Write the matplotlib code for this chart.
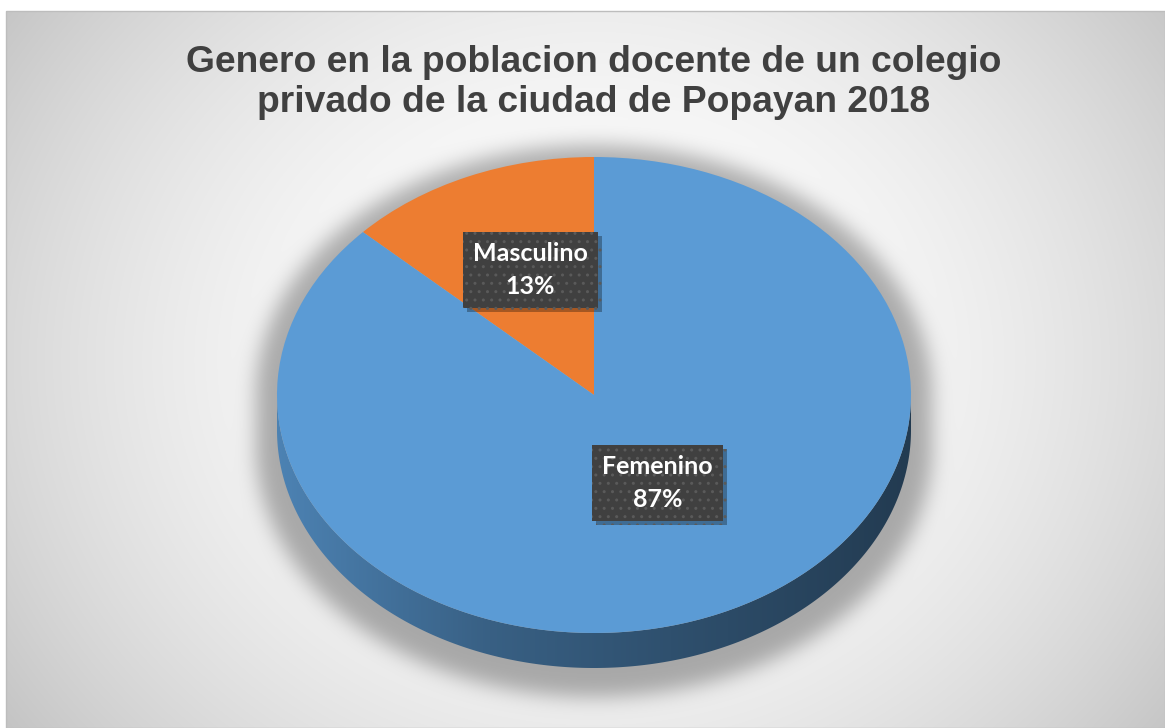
import numpy as np
import matplotlib
matplotlib.use("Agg")
import matplotlib.pyplot as plt
from matplotlib.patches import Polygon, Rectangle
from matplotlib.colors import LinearSegmentedColormap, to_rgb
import matplotlib.patheffects as pe

# ---------------- data ----------------
labels = ["Masculino", "Femenino"]
values = [13, 87]
colors = ["#ED7D31", "#5B9BD5"]
title_lines = ["Genero en la poblacion docente de un colegio",
               "privado de la ciudad de Popayan 2018"]

# ---------------- layout ----------------
W, H = 1165, 728
CX, CY = 594, 395          # pie centre (px)
RX, RY = 317, 238          # pie radii (px)
DEPTH = 35                 # pie thickness (px)
label_pos = [(-0.20, 0.525), (0.20, -0.37)]   # label centres in pie units

fig = plt.figure(figsize=(W / 100, H / 100), dpi=100)
fig.patch.set_facecolor("white")

# ---------------- background with gradient + pie shadow ----------------
bg = fig.add_axes([0, 0, 1, 1])
bg.set_xlim(0, W)
bg.set_ylim(H, 0)
bg.axis("off")

yy, xx = np.mgrid[0:H, 0:W] + 0.5
r2 = ((xx - 594) / 620) ** 2 + ((yy - 360) / 540) ** 2
shade = 1 - 0.17 * r2

# soft shadow of the pie silhouette
dy = yy - CY
dyc = dy - np.clip(dy, 0, 52)
mask = (((xx - CX) / 338) ** 2 + (dyc / 250) ** 2 <= 1).astype(float)
sigma = 10.0
ky = np.fft.fftfreq(H)[:, None]
kx = np.fft.fftfreq(W)[None, :]
g = np.exp(-2 * (np.pi ** 2) * (sigma ** 2) * (kx ** 2 + ky ** 2))
blur = np.real(np.fft.ifft2(np.fft.fft2(mask) * g))
blur = np.clip(blur, 0, 1)
shade = shade * (1 - 0.30 * blur)
shade = np.clip(shade, 0, 1)

img = np.dstack([shade, shade, shade])
img[:11, :, :] = 1.0
img[:, :6, :] = 1.0
bg.imshow(img, extent=[0, W, H, 0], interpolation="bilinear", aspect="auto", zorder=0)
bg.add_patch(Rectangle((6, 11), W - 6, H - 11, fill=False, edgecolor="#bdbdbd", lw=1.0, zorder=1))

# ---------------- pie ----------------
left_px, right_px = CX - 370, CX + 370
top_px, bot_px = 140, 700
ax = fig.add_axes([left_px / W, (H - bot_px) / H, (right_px - left_px) / W, (bot_px - top_px) / H])
ax.patch.set_alpha(0)
wedges, _ = ax.pie(values, colors=colors, startangle=90, counterclock=True,
                   wedgeprops=dict(linewidth=0, zorder=3))
ax.set_aspect("auto")
xl = (right_px - left_px) / 2 / RX

d = DEPTH / RY
# side walls: visible front half (180..360 deg) of each wedge
for w, col in zip(wedges, colors):
    spans = []
    for off in (0, 360, -360):
        lo = max(w.theta1 + off, 180)
        hi = min(w.theta2 + off, 360)
        if hi > lo:
            spans.append((lo, hi))
    base = np.array(to_rgb(col))
    cmap = LinearSegmentedColormap.from_list(
        "side", [base * 0.84, base * 0.62, base * 0.50, base * 0.38])
    for lo, hi in spans:
        t = np.radians(np.linspace(lo, hi, 400))
        top = np.column_stack([np.cos(t), np.sin(t)])
        bot = np.column_stack([np.cos(t), np.sin(t) - d])[::-1]
        poly = Polygon(np.vstack([top, bot]), closed=True, facecolor="none",
                       edgecolor="none", zorder=2)
        ax.add_patch(poly)
        grad = np.linspace(0, 1, 512)[None, :]
        im = ax.imshow(grad, cmap=cmap, extent=[-1, 1, -1 - d, 0],
                       aspect="auto", zorder=2, interpolation="bilinear")
        im.set_clip_path(poly)

ax.set_xlim(-xl, xl)
ax.set_ylim(-(bot_px - CY) / RY, (CY - top_px) / RY)
ax.axis("off")

# ---------------- data labels ----------------
total = sum(values)
for lab, v, (x, y) in zip(labels, values, label_pos):
    txt = f"{lab}\n{round(100 * v / total)}%"
    t = ax.text(x, y, txt, ha="center", va="center",
                fontsize=18, fontfamily="Lato", fontweight="bold", color="white",
                linespacing=1.5, zorder=5,
                bbox=dict(boxstyle="square,pad=0.4", facecolor="#404040",
                          edgecolor="#5a5a5a", linewidth=0, hatch=".."))
    t.get_bbox_patch().set_path_effects(
        [pe.SimplePatchShadow(offset=(3, -3), shadow_rgbFace="black", alpha=0.3),
         pe.Normal()])

# ---------------- title ----------------
fig.text(594 / W, 1 - 72 / H, title_lines[0], ha="center", va="baseline",
         fontsize=26.8, fontfamily="Liberation Sans", fontweight="bold", color="#404040")
fig.text(594 / W, 1 - 112 / H, title_lines[1], ha="center", va="baseline",
         fontsize=26.8, fontfamily="Liberation Sans", fontweight="bold", color="#404040")

fig.savefig("out.png", dpi=100)
